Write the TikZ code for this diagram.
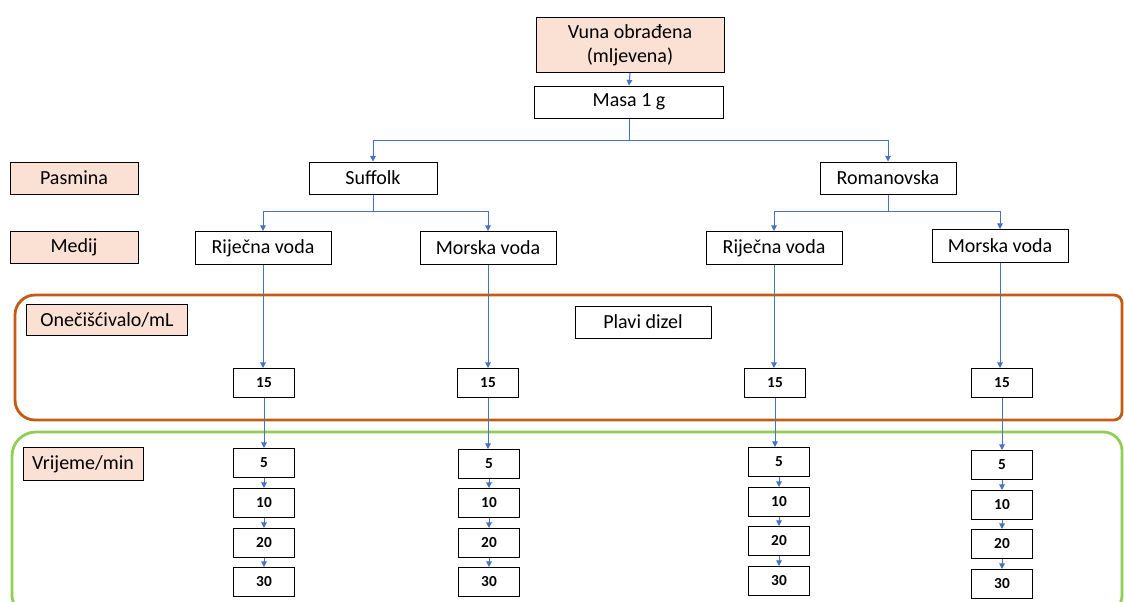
\documentclass[tikz,border=0pt]{standalone}
\usepackage{fontspec}
\setmainfont{Carlito}
\usetikzlibrary{arrows.meta}
\definecolor{peach}{HTML}{FBE1D3}
\definecolor{connblue}{HTML}{4472C4}
\definecolor{frameorange}{HTML}{C55A11}
\definecolor{framegreen}{HTML}{8FCF55}
\begin{document}
\begin{tikzpicture}[x=0.75pt,y=-0.75pt,
  wh/.style 2 args={minimum width=#1*0.75pt, minimum height=#2*0.75pt},
  box/.style={draw=black, line width=0.75pt, inner sep=0pt, fill=white,
    font=\fontsize{15}{18.3}\selectfont},
  label/.style={box, fill=peach},
  numbox/.style={draw=black, line width=0.75pt, inner sep=0pt, fill=white,
    font=\fontsize{11.5}{14}\selectfont\bfseries, wh={61}{29}},
  conn/.style={draw=connblue, line width=0.75pt},
  arr/.style={conn, -{Triangle[width=4.2pt,length=4.2pt]}},
  frame/.style={line width=2.1pt}]
\useasboundingbox (0,0) rectangle (1124,601);
% frames
\draw[frame, draw=frameorange]
  (15,420) [rounded corners=15pt] -- (15,295) [rounded corners=6pt] -- (1122,295)
  -- (1122,420) [rounded corners=15pt] -- cycle;
\draw[frame, draw=framegreen]
  (12,614) [rounded corners=18pt] -- (12,432) [rounded corners=14pt] -- (1122,432)
  -- (1122,614) -- cycle;
% top
\node[label, wh={188}{55}, align=center] (vuna) at (630,45) {Vuna obrađena\\(mljevena)};
\node[box, wh={189}{32}] (masa) at (629,102) {Masa 1 g};
\node[box, wh={128}{32}] (suff) at (373,178) {Suffolk};
\node[box, wh={136}{32}] (roman) at (888,178) {Romanovska};
\node[label, wh={128}{32}] (pasm) at (74,178) {Pasmina};
\node[label, wh={128}{32}] (medij) at (74,247) {Medij};
\node[box, wh={136}{33}] (rv1) at (263,248) {Riječna voda};
\node[box, wh={136}{33}] (mv1) at (488,248) {Morska voda};
\node[box, wh={136}{33}] (rv2) at (774,248) {Riječna voda};
\node[box, wh={136}{33}] (mv2) at (1000,246) {Morska voda};
\node[label, wh={161}{31}] (onec) at (107,320) {Onečišćivalo/mL};
\node[box, wh={136}{32}] (plavi) at (643,322) {Plavi dizel};
\node[label, wh={120}{33}] (vrij) at (83,464) {Vrijeme/min};
% 15 boxes
\node[numbox] (p1) at (264,383) {15};
\node[numbox] (p2) at (488,383) {15};
\node[numbox] (p3) at (775,383) {15};
\node[numbox] (p4) at (1002,383) {15};
% time columns
\node[numbox] (a1) at (264,463) {5};
\node[numbox] (a2) at (264,503) {10};
\node[numbox] (a3) at (264,543) {20};
\node[numbox] (a4) at (264,582) {30};
\node[numbox] (b1) at (489,464) {5};
\node[numbox] (b2) at (489,503) {10};
\node[numbox] (b3) at (489,543) {20};
\node[numbox] (b4) at (489,582) {30};
\node[numbox] (c1) at (779,462) {5};
\node[numbox] (c2) at (779,502) {10};
\node[numbox] (c3) at (779,541) {20};
\node[numbox] (c4) at (779,581) {30};
\node[numbox] (d1) at (1002,465) {5};
\node[numbox] (d2) at (1002,505) {10};
\node[numbox] (d3) at (1002,544) {20};
\node[numbox] (d4) at (1002,584) {30};
% connectors
\draw[arr] (vuna.south) -- (masa.north);
\coordinate (j1) at (629,140);
\draw[conn] (masa.south) -- (j1);
\draw[arr] (j1) -| (suff.north);
\draw[arr] (j1) -| (roman.north);
\coordinate (j2) at (373,211);
\draw[conn] (suff.south) -- (j2);
\draw[arr] (j2) -| (rv1.north);
\draw[arr] (j2) -| (mv1.north);
\coordinate (j3) at (888,211);
\draw[conn] (roman.south) -- (j3);
\draw[arr] (j3) -| (rv2.north);
\draw[arr] (j3) -| (mv2.north);
\draw[arr] (rv1.south) -- (rv1.south |- p1.north);
\draw[arr] (mv1.south) -- (mv1.south |- p2.north);
\draw[arr] (rv2.south) -- (rv2.south |- p3.north);
\draw[arr] (mv2.south) -- (mv2.south |- p4.north);
\draw[arr] (p1.south) -- (p1.south |- a1.north);
\draw[arr] (p2.south) -- (p2.south |- b1.north);
\draw[arr] (p3.south) -- (p3.south |- c1.north);
\draw[arr] (p4.south) -- (p4.south |- d1.north);
\foreach \col in {a,b,c,d}{
  \draw[arr] (\col1.south) -- (\col1.south |- \col2.north);
  \draw[arr] (\col2.south) -- (\col2.south |- \col3.north);
  \draw[arr] (\col3.south) -- (\col3.south |- \col4.north);
}
\end{tikzpicture}
\end{document}
